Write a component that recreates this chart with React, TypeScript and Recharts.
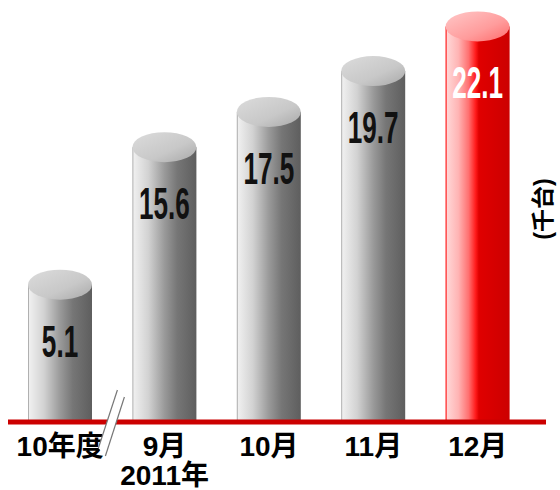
import React from "react";
import { ComposedChart, Bar, XAxis, YAxis } from "recharts";

const categories = ["10年度", "9月", "10月", "11月", "12月"];
const yearLabels = ["", "2011年", "", "", ""];
const fyValues = [5.1, null, null, null, null];
const monthValues = [null, 15.6, 17.5, 19.7, 22.1];
const highlight = [false, false, false, false, true];
const unitLabel = "(千台)";

const data = categories.map((c, i) => ({
  cat: c,
  fy: fyValues[i],
  month: monthValues[i],
  year: yearLabels[i],
  hl: highlight[i],
}));

const W = 560;
const H = 490;
const margin = { top: 4, right: 14, bottom: 0, left: 8 };
const axisH = 68;

const labelFont = "'Liberation Sans','Noto Sans CJK JP',Arial,sans-serif";
const numFont = "'Liberation Sans',Arial,sans-serif";

function Cylinder(props: any) {
  const { x, y, width, height, payload, v } = props;
  if (v == null || !height || height <= 0) return null;
  const hl = payload.hl;
  const ry = 15;
  const cx = x + width / 2;
  const body = hl ? "url(#redBody)" : "url(#grayBody)";
  const top = hl ? "url(#redTop)" : "url(#grayTop)";
  const edge = hl ? "#ff0000" : "#b0b0b0";
  const ty = y + 87;
  return (
    <g>
      <rect x={x} y={y + ry} width={width} height={height - ry} fill={body} />
      <line x1={x + 0.5} y1={y + ry} x2={x + 0.5} y2={y + height} stroke={edge} strokeWidth={1} />
      <ellipse cx={cx} cy={y + ry} rx={width / 2} ry={ry} fill={top} />
      <text
        transform={`translate(${cx} ${ty}) scale(0.58 1)`}
        x={0}
        y={0}
        textAnchor="middle"
        fontFamily={numFont}
        fontWeight="bold"
        fontSize={45}
        fill={hl ? "#ffffff" : "#111111"}
      >
        {v.toFixed(1)}
      </text>
    </g>
  );
}

function Tick(props: any) {
  const { x, y, payload, index } = props;
  const year = yearLabels[index] || data[index]?.year;
  return (
    <g>
      <text x={x} y={y + 34} textAnchor="middle" fontFamily={labelFont} fontWeight="bold" fontSize={28} fill="#000">
        {payload.value}
      </text>
      {year ? (
        <text x={x} y={y + 63} textAnchor="middle" fontFamily={labelFont} fontWeight="bold" fontSize={28} fill="#000">
          {year}
        </text>
      ) : null}
    </g>
  );
}

export default function App() {
  const plotBottom = H - margin.bottom - axisH;
  const plotLeft = margin.left;
  const band = (W - margin.left - margin.right - 16) / categories.length;
  const bx = plotLeft + band;
  return (
    <div style={{ position: "absolute", left: 0, top: 0, width: W, height: H, background: "#fff" }}>
      <ComposedChart width={W} height={H} data={data} margin={margin} barGap={-64}>
        <defs>
          <linearGradient id="grayBody" x1="0" y1="0" x2="1" y2="0">
            <stop offset="0" stopColor="#f2f2f2" />
            <stop offset="0.25" stopColor="#d2d2d2" />
            <stop offset="0.5" stopColor="#9a9a9a" />
            <stop offset="0.7" stopColor="#767676" />
            <stop offset="1" stopColor="#5e5e5e" />
          </linearGradient>
          <linearGradient id="grayTop" x1="0" y1="0" x2="1" y2="1">
            <stop offset="0" stopColor="#dcdcdc" />
            <stop offset="0.6" stopColor="#c8c8c8" />
            <stop offset="1" stopColor="#a8a8a8" />
          </linearGradient>
          <linearGradient id="redBody" x1="0" y1="0" x2="1" y2="0">
            <stop offset="0" stopColor="#ffdada" />
            <stop offset="0.2" stopColor="#ffb4b4" />
            <stop offset="0.36" stopColor="#ff7070" />
            <stop offset="0.47" stopColor="#ff1a1a" />
            <stop offset="0.52" stopColor="#e00000" />
            <stop offset="1" stopColor="#cc0000" />
          </linearGradient>
          <linearGradient id="redTop" x1="0" y1="0" x2="1" y2="1">
            <stop offset="0" stopColor="#ffc8c8" />
            <stop offset="0.6" stopColor="#ff9c9c" />
            <stop offset="1" stopColor="#ff6a6a" />
          </linearGradient>
        </defs>
        <XAxis
          dataKey="cat"
          height={axisH}
          padding={{ left: 0, right: 16 }}
          axisLine={{ stroke: "#cc0000", strokeWidth: 5 }}
          tickLine={false}
          tickSize={0}
          tickMargin={0}
          interval={0}
          tick={<Tick />}
        />
        <YAxis yAxisId="fy" hide domain={[0, 14]} allowDataOverflow type="number" />
        <YAxis yAxisId="month" hide domain={[0, 22.5]} allowDataOverflow type="number" />
        <Bar
          dataKey="fy"
          yAxisId="fy"
          barSize={64}
          isAnimationActive={false}
          shape={(p: any) => <Cylinder {...p} v={p.payload.fy} />}
        />
        <Bar
          dataKey="month"
          yAxisId="month"
          barSize={64}
          isAnimationActive={false}
          shape={(p: any) => <Cylinder {...p} v={p.payload.month} />}
        />
      </ComposedChart>
      <svg
        width={W}
        height={H}
        style={{ position: "absolute", left: 0, top: 0, pointerEvents: "none" }}
      >
        <g transform={`translate(${bx} ${plotBottom})`}>
          <polygon points="5,-32 12,-25 -7,34 -14,26" fill="#ffffff" />
          <line x1={5} y1={-32} x2={-14} y2={26} stroke="#777" strokeWidth={1.2} />
          <line x1={12} y1={-25} x2={-7} y2={34} stroke="#777" strokeWidth={1.2} />
        </g>
        <text
          transform={`translate(543 209) rotate(-90)`}
          textAnchor="middle"
          dominantBaseline="central"
          fontFamily={labelFont}
          fontWeight="bold"
          fontSize={23}
          fill="#000"
        >
          {unitLabel}
        </text>
      </svg>
    </div>
  );
}
